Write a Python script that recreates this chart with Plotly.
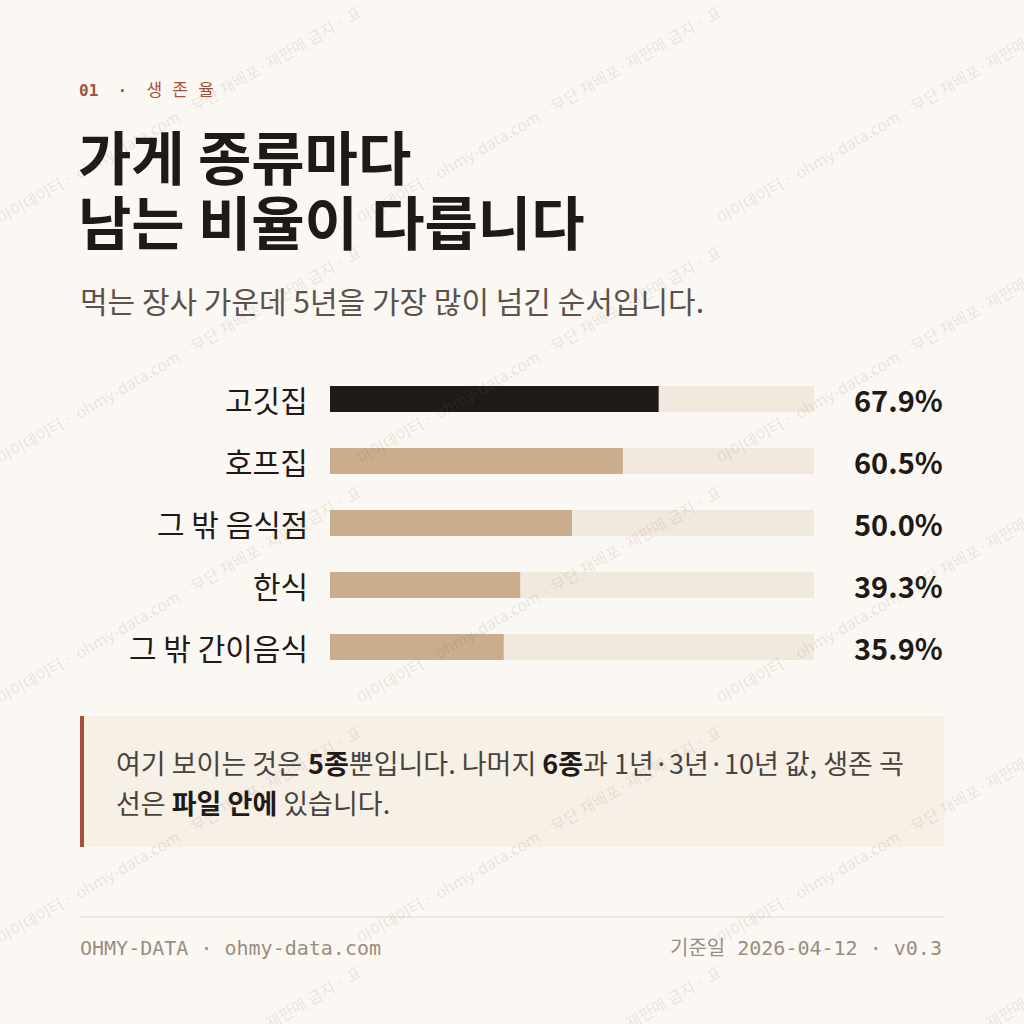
import plotly.graph_objects as go

# data
categories = ["고깃집", "호프집", "그 밖 음식점", "한식", "그 밖 간이음식"]
survival_5y = [67.9, 60.5, 50.0, 39.3, 35.9]
track = [100, 100, 100, 100, 100]

BG = "#fbf8f3"
INK = "#1f1a17"
TAN = "#c9ad8c"
TRACK = "#f1e9dd"
RUST = "#a3513b"
MUTED = "#9a8d80"
KR = "Noto Sans CJK KR"
MONO = "DejaVu Sans Mono"
NB = "\u00a0"
SP4 = "\u2005"

W = H = 1024


def px(x):
    return x / W


def py(y):
    return 1 - y / H


bar_colors = [INK] + [TAN] * (len(categories) - 1)

fig = go.Figure()
fig.add_trace(go.Bar(
    y=categories, x=track, orientation="h", marker_color=TRACK,
    marker_line_width=0, width=0.42, hoverinfo="skip", showlegend=False,
))
fig.add_trace(go.Bar(
    y=categories, x=survival_5y, orientation="h", marker_color=bar_colors,
    marker_line_width=0, width=0.42, showlegend=False,
    hovertemplate="%{y}<br>%{x:.1f}%<extra></extra>",
))

annotations = []

# category labels and values, placed on the bar axes
for cat, v in zip(categories, survival_5y):
    annotations.append(dict(
        x=0, y=cat, xref="x", yref="y", text=cat, showarrow=False,
        xanchor="right", yanchor="middle", xshift=-20,
        font=dict(family=KR, size=30, color=INK),
    ))
    annotations.append(dict(
        x=100, y=cat, xref="x", yref="y", text=f"<b>{v:.1f}%</b>", showarrow=False,
        xanchor="right", yanchor="middle", xshift=131,
        font=dict(family=KR, size=29, color=INK),
    ))

def txt(x, y, text, size, color, family=KR, anchor="left"):
    annotations.append(dict(
        x=px(x), y=py(y), xref="paper", yref="paper", text=text, showarrow=False,
        xanchor=anchor, yanchor="middle", font=dict(family=family, size=size, color=color),
    ))

# header
txt(77, 90, "<b>01" + NB * 2 + "·</b>" + NB * 2
    + "<span style='font-size:17px'>생" + SP4 + "존" + SP4 + "율</span>", 16, RUST,
    family=MONO + ", " + KR)
txt(76, 155, "<b>가게 종류마다</b>", 58, INK)
txt(76, 220, "<b>남는 비율이 다릅니다</b>", 58, INK)
txt(78, 300, "먹는 장사 가운데 5년을 가장 많이 넘긴 순서입니다.", 30, "#5a524b")

# callout
txt(114, 762, "여기 보이는 것은 <b style='color:#1f1a17'>5종</b>뿐입니다. 나머지 "
    "<b style='color:#1f1a17'>6종</b>과 1년·3년·10년 값, 생존 곡", 27, "#4a423c")
txt(114, 802, "선은 <b style='color:#1f1a17'>파일 안에</b> 있습니다.", 27, "#4a423c")

# footer
txt(78, 948, "OHMY-DATA · ohmy-data.com", 20, MUTED, family=MONO + ", " + KR)
txt(944, 948, "기준일 2026-04-12 · v0.3", 20, MUTED, family=MONO + ", " + KR, anchor="right")

# watermark tiles
wm = "마이데이터 · ohmy-data.com · 무단 재배포·재판매 금지 · 표"
for cx in [179, 539, 899]:
    for cy in [114, 354, 594, 834, 1074]:
        annotations.append(dict(
            x=px(cx), y=py(cy), xref="paper", yref="paper", text=wm, showarrow=False,
            textangle=-30, xanchor="center", yanchor="middle",
            font=dict(family=KR, size=16, color="rgba(120,100,80,0.15)"),
        ))

shapes = [
    # callout background + rust rule
    dict(type="rect", xref="paper", yref="paper", x0=px(80), x1=px(944),
         y0=py(847), y1=py(716), fillcolor="#f6f0e7", line_width=0, layer="below"),
    dict(type="rect", xref="paper", yref="paper", x0=px(80), x1=px(84),
         y0=py(847), y1=py(716), fillcolor=RUST, line_width=0, layer="below"),
    # footer divider
    dict(type="line", xref="paper", yref="paper", x0=px(80), x1=px(944),
         y0=py(917), y1=py(917), line=dict(color="#e9e2d8", width=1.5)),
]

fig.update_layout(
    width=W, height=H,
    margin=dict(l=0, r=0, t=0, b=0),
    paper_bgcolor=BG, plot_bgcolor=BG,
    barmode="overlay",
    annotations=annotations,
    shapes=shapes,
    xaxis=dict(domain=[px(330), px(814)], range=[0, 100], visible=False, fixedrange=True),
    yaxis=dict(domain=[py(678), py(368)], range=[4.5, -0.5], visible=False, fixedrange=True),
)

fig.write_html(
    "out.html",
    config={"displayModeBar": False},
    post_script="document.body.style.margin='0';document.body.style.overflow='hidden';",
)
